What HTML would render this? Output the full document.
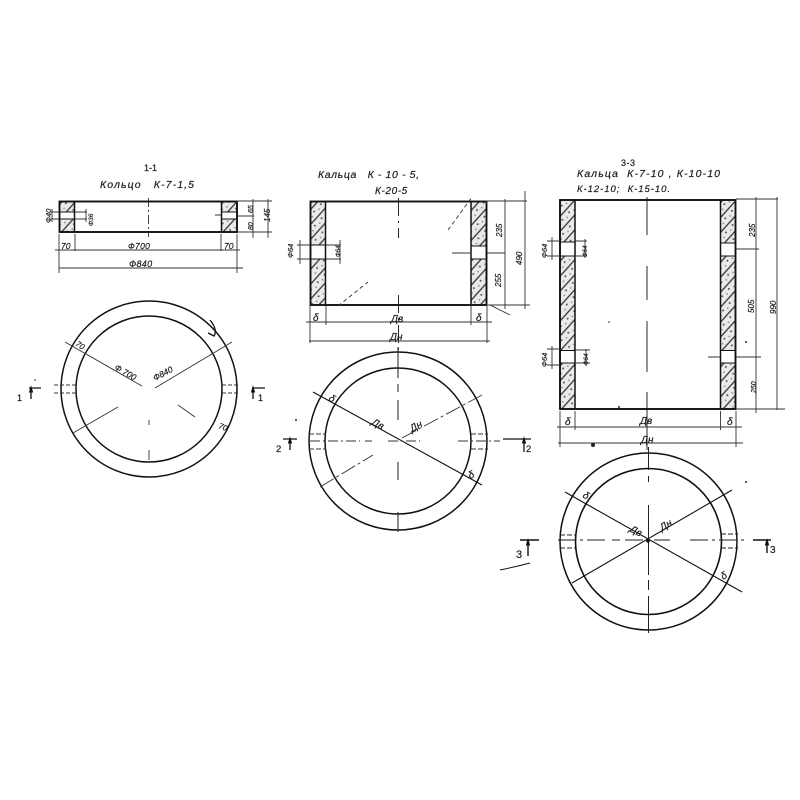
<!DOCTYPE html>
<html><head><meta charset="utf-8"><style>
html,body{margin:0;padding:0;background:#fff;width:800px;height:800px;overflow:hidden}
svg{display:block;filter:blur(.3px)}
text{font-family:"Liberation Sans",sans-serif;font-style:italic;fill:#1c1c1c;stroke:#1c1c1c;stroke-width:.2}
</style></head><body>
<svg width="800" height="800" viewBox="0 0 800 800" xmlns="http://www.w3.org/2000/svg">
<defs>
<pattern id="h" width="10" height="10" patternUnits="userSpaceOnUse" patternTransform="rotate(-48)">
<rect width="10" height="10" fill="#eaeaea"/><line x1="0" y1="1" x2="10" y2="1" stroke="#333" stroke-width="1.3"/>
<circle cx="3" cy="5" r="1" fill="#555"/><circle cx="8" cy="7" r=".8" fill="#777"/></pattern>
</defs>

<!-- SECTION 1 -->
<g fill="none" stroke="#111">
<rect x="59.5" y="201.5" width="15" height="30.5" fill="url(#h)" stroke-width="1"/>
<rect x="221.5" y="201.5" width="15.5" height="30.5" fill="url(#h)" stroke-width="1"/>
<rect x="59.5" y="212" width="15" height="7" fill="#fff" stroke-width="1"/>
<rect x="221.5" y="212" width="15.5" height="7" fill="#fff" stroke-width="1"/>
<rect x="59.5" y="201.5" width="177.5" height="30.5" stroke-width="1.9"/>
<path d="M74.5 201.5V232M221.5 201.5V232" stroke-width="1.5"/>
<path d="M148.5 198V237" stroke-width=".8" stroke-dasharray="9 3 2 3"/>
<g stroke-width=".9" stroke="#333">
<path d="M50 212H59M50 219H59M75 212H87M75 219H87M215 215H221"/>
<path d="M52 209V222M86 209V222"/>
<path d="M59 234V273M75 234V251M221 234V251M237 234V273"/>
<path d="M55 250H240M59 268H243"/>
<path d="M237 201H272M237 216H254M237 232H272M253 199V238M268 199V238"/>
</g></g>
<g font-size="8.5">
<text x="144" y="171" font-size="9" style="font-style:normal">1-1</text>
<text x="100" y="188" font-size="10.5" textLength="94">Кольцо &#160; К-7-1,5</text>
<text x="61" y="249">70</text><text x="128" y="249" letter-spacing=".3">Ф700</text><text x="224" y="249">70</text>
<text x="129" y="267" font-size="9" letter-spacing=".3">Ф840</text>
<text transform="translate(51 223) rotate(-90)" font-size="7.5">Ф40</text>
<text transform="translate(93 226) rotate(-90)" font-size="6.5">Ф36</text>
<text transform="translate(253 213) rotate(-90)" font-size="7">65</text>
<text transform="translate(253 230) rotate(-90)" font-size="7">80</text>
<text transform="translate(270 222) rotate(-90)" font-size="8">145</text>
</g>

<!-- SECTION 2 -->
<g fill="none" stroke="#111">
<rect x="310.5" y="201.5" width="15" height="103.5" fill="url(#h)" stroke-width="1"/>
<rect x="471" y="201.5" width="15.5" height="103.5" fill="url(#h)" stroke-width="1"/>
<rect x="310.5" y="245" width="15" height="14" fill="#fff" stroke-width="1"/>
<rect x="471" y="246" width="15.5" height="13" fill="#fff" stroke-width="1"/>
<rect x="310.5" y="201.5" width="176" height="103.5" stroke-width="1.9"/>
<path d="M325.5 201.5V305M471 201.5V305" stroke-width="1.5"/>
<path d="M398.5 198V238M398.5 295V350" stroke-width=".9" stroke-dasharray="18 5 2 5"/>
<g stroke-width=".9" stroke="#333">
<path d="M297 245H310M297 259H310M326 245H341M326 259H341M452 253H470M487 253H505"/>
<path d="M300 240V264M340 240V264"/>
<path d="M486 201H527M486 305H530M505 199V309M525 191V309"/>
<path d="M310 306V343M326 306V325M471 306V325M487 306V343"/>
<path d="M306 322H492M309 341H490"/>
<path d="M448 230L472 197M338 306L368 282" stroke-dasharray="4 3"/>
<path d="M490 305L510 315"/>
</g></g>
<g>
<text x="318" y="178" font-size="10.5" textLength="101">Кальца &#160; К - 10 - 5,</text>
<text x="375" y="194" font-size="10" letter-spacing=".6">К-20-5</text>
<text x="391" y="322" font-size="10">Дв</text>
<text x="390" y="340" font-size="10">Дн</text>
<text x="313" y="321" font-size="10">δ</text>
<text x="476" y="321" font-size="10">δ</text>
<text transform="translate(293 258) rotate(-90)" font-size="7.5">Ф64</text>
<text transform="translate(340 257) rotate(-90)" font-size="6">Ф64</text>
<text transform="translate(502 237) rotate(-90)" font-size="8">235</text>
<text transform="translate(501 287) rotate(-90)" font-size="8">255</text>
<text transform="translate(522 265) rotate(-90)" font-size="8">490</text>
</g>

<!-- SECTION 3 -->
<g fill="none" stroke="#111">
<rect x="560" y="200" width="15" height="209" fill="url(#h)" stroke-width="1"/>
<rect x="720.5" y="200" width="15" height="209" fill="url(#h)" stroke-width="1"/>
<rect x="560" y="242" width="15" height="14" fill="#fff" stroke-width="1"/>
<rect x="720.5" y="243" width="15" height="13" fill="#fff" stroke-width="1"/>
<rect x="560" y="350.5" width="15" height="12.5" fill="#fff" stroke-width="1"/>
<rect x="720.5" y="350.5" width="15" height="12.5" fill="#fff" stroke-width="1"/>
<rect x="560" y="200" width="175.5" height="209" stroke-width="1.9"/>
<path d="M575 200V409M720.5 200V409" stroke-width="1.5"/>
<path d="M647 197V235M647 266V300M647 321V372M647 392V450" stroke-width=".9"/>
<g stroke-width=".9" stroke="#333">
<path d="M547 241H560M547 256H560M575 241H587M575 256H587M736 249H759"/>
<path d="M547 349H560M547 365H560M575 350H590M575 363H590M736 357H761M708 357H720"/>
<path d="M552 237V260M552 346V369M585 239V258M586 349V366"/>
<path d="M736 199H778M736 409H785M756 197V413M777 197V410"/>
<path d="M560 411V447M575 411V430M720.5 411V430M736 411V447"/>
<path d="M557 427H742M558 443H743"/>
</g></g>
<g>
<text x="621" y="166" font-size="9" style="font-style:normal" letter-spacing=".5">3-3</text>
<text x="577" y="177" font-size="10.5" textLength="143">Кальца &#160;К-7-10 , К-10-10</text>
<text x="577" y="192" font-size="9.5" textLength="93">К-12-10; &#160;К-15-10.</text>
<text x="640" y="424" font-size="10">Дв</text>
<text x="641" y="443" font-size="10">Дн</text>
<text x="565" y="425" font-size="10">δ</text>
<text x="727" y="425" font-size="10">δ</text>
<text transform="translate(547 258) rotate(-90)" font-size="7.5">Ф64</text>
<text transform="translate(547 367) rotate(-90)" font-size="7.5">Ф64</text>
<text transform="translate(587 257) rotate(-90)" font-size="6">Ф64</text>
<text transform="translate(588 365) rotate(-90)" font-size="6">Ф64</text>
<text transform="translate(755 237) rotate(-90)" font-size="8">235</text>
<text transform="translate(754 313) rotate(-90)" font-size="8">505</text>
<text transform="translate(756 393) rotate(-90)" font-size="7">250</text>
<text transform="translate(776 314) rotate(-90)" font-size="8">990</text>
</g>

<!-- CIRCLE 1 -->
<g fill="none" stroke="#111">
<circle cx="149" cy="389" r="88" stroke-width="1.5"/>
<circle cx="149" cy="389" r="73" stroke-width="1.5"/>
<g stroke-width=".9" stroke="#333">
<path d="M65 342L142 386M155 388L232 342M73 433L118 407M178 405L195 417"/>
<path d="M54 385H76M54 393H76M222 385H238M222 393H238" stroke-dasharray="4 2"/>
<path d="M149 420V425M149 450V460"/>
</g>
<path d="M210 320Q218 330 214 336L208 333" stroke-width="1.3"/>
<path d="M29 388H41M252 388H265M31 388V399M253 388V399" stroke-width="1.3"/>
<path d="M31 387L29.5 392H32.5ZM253 387L251.5 392H254.5Z" fill="#111"/>
</g>
<g>
<text transform="translate(75 345) rotate(35)" font-size="8">70</text>
<text transform="translate(114 369) rotate(30)" font-size="8.5">Ф 700</text>
<text transform="translate(155 381) rotate(-28)" font-size="8.5">Ф840</text>
<text transform="translate(218 428) rotate(20)" font-size="8">70</text>
<text x="17" y="401" font-size="9" style="font-style:normal">1</text>
<text x="258" y="401" font-size="9" style="font-style:normal">1</text>
</g>

<!-- CIRCLE 2 -->
<g fill="none" stroke="#111">
<circle cx="398" cy="441" r="89" stroke-width="1.5"/>
<circle cx="398" cy="441" r="73" stroke-width="1.5"/>
<path d="M313 392L482 485" stroke-width="1.1"/>
<g stroke-width=".9" stroke="#333">
<path d="M402 438L482 395M320 487L373 455" stroke-dasharray="16 3 3 3"/>
<path d="M398 347V378M398 384V392M398 400V420M398 462V480M398 512V532" stroke-width="1.1"/>
<path d="M310 441H360M365 441H372M388 441H420M458 441H500" stroke-dasharray="10 3 2 3"/>
<path d="M309 434H326M309 449H326M471 434H488M471 449H488" stroke-dasharray="5 2"/>
</g>
<path d="M283 439H297M503 439H531M290 439V450M524 439V452" stroke-width="1.3"/>
<path d="M290 438L288.500 443H291.500ZM524 438L522.500 443H525.500Z" fill="#111"/>
</g>
<g>
<text transform="translate(328 400) rotate(30)" font-size="10">δ</text>
<text transform="translate(371 424) rotate(28)" font-size="10">Дв</text>
<text transform="translate(412 432) rotate(-28)" font-size="10">Дн</text>
<text transform="translate(470 479) rotate(-25)" font-size="10">δ</text>
<text x="276" y="452" font-size="9.5" style="font-style:normal">2</text>
<text x="526" y="452" font-size="9.5" style="font-style:normal">2</text>
</g>

<!-- CIRCLE 3 -->
<g fill="none" stroke="#111">
<circle cx="648.500" cy="541.500" r="88.500" stroke-width="1.5"/>
<circle cx="648.500" cy="541.500" r="73" stroke-width="1.6"/>
<path d="M565 492L742 592M572 583L732 490" stroke-width="1.1"/>
<g stroke-width="1" stroke="#222">
<path d="M648.500 447V470M648.500 476V482M648.500 505V575M648.500 580V590M648.500 596V633" />
<path d="M558 540H605M612 540H620M625 540H670M690 540H745" stroke-dasharray="18 4 3 4"/>
<path d="M560 535H576M560 548H576M721 534H738M721 548H738" stroke-dasharray="5 2"/>
</g>
<circle cx="648" cy="541" r="1.800" fill="#111" stroke="none"/>
<path d="M520 540H539M528 540V556M753 540H771M767 540V553" stroke-width="1.400"/>
<path d="M528 539L526.500 545H529.500ZM767 539L765.500 545H768.500Z" fill="#111"/>
<path d="M500 570Q515 567 530 563" stroke-width="1"/>
</g>
<g>
<text transform="translate(582 497) rotate(30)" font-size="10">δ</text>
<text transform="translate(629 531) rotate(28)" font-size="10">Дв</text>
<text transform="translate(662 531) rotate(-30)" font-size="10">Дн</text>
<text transform="translate(723 580) rotate(-30)" font-size="10">δ</text>
<text x="516" y="558" font-size="11" style="font-style:normal">3</text>
<text x="770" y="553" font-size="10" style="font-style:normal">3</text>
</g>

<!-- specks -->
<g fill="#222">
<circle cx="593" cy="445" r="2"/><circle cx="746" cy="482" r="1"/><circle cx="35" cy="380" r=".8"/>
<circle cx="296" cy="420" r="1"/><circle cx="609" cy="322" r=".8"/>
<circle cx="619" cy="407" r="1"/><circle cx="746" cy="342" r="1"/>
</g>
</svg>
</body></html>
